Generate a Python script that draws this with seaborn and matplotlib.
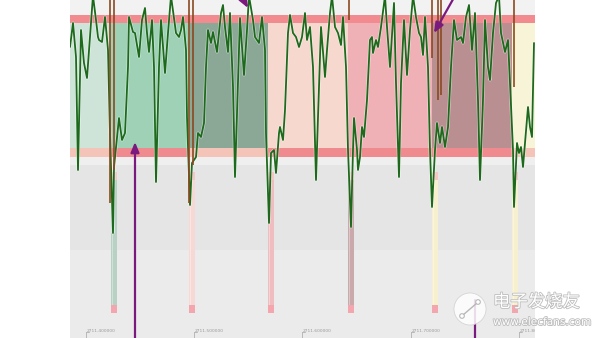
import matplotlib
matplotlib.use("Agg")
import matplotlib.pyplot as plt
import matplotlib.patches as mpatches
import matplotlib.patheffects as pe
import seaborn as sns
import pandas as pd

# ---------------- data (x = horizontal position, y = depth from top) ----------------
green_x = [70, 73, 76, 78, 81, 84, 87, 89, 92, 93, 96, 98, 99, 102, 105, 108, 110, 113, 114, 116,
           119, 122, 125, 128, 129, 133, 135, 139, 142, 145, 147, 149, 152, 154, 156, 159, 161, 165,
           168, 171, 176, 179, 181, 183, 186, 187, 190, 192, 196, 198, 201, 204, 206, 208, 211, 213,
           217, 221, 223, 225, 228, 230, 233, 235, 238, 240, 244, 247, 249, 253, 255, 259, 262, 265,
           266, 269, 271, 274, 276, 279, 280, 283, 285, 288, 290, 293, 296, 299, 302, 305, 307, 310,
           313, 316, 318, 321, 325, 327, 330, 332, 335, 338, 341, 343, 346, 348, 351, 353, 354, 357,
           358, 360, 362, 364, 367, 370, 372, 373, 376, 378, 381, 385, 387, 390, 394, 396, 399, 401,
           404, 407, 410, 413, 416, 419, 421, 423, 425, 428, 430, 432, 435, 437, 440, 442, 445, 448,
           451, 454, 457, 461, 463, 466, 469, 472, 475, 478, 480, 483, 485, 488, 490, 493, 496, 499,
           501, 505, 508, 510, 513, 514, 517, 519, 521, 523, 525, 528, 530, 532, 534]
green_y = [47, 23, 57, 170, 30, 63, 78, 50, 7, -4, 20, 37, 40, 42, 17, 50, 133, 233, 167, 147,
           118, 140, 133, 67, 17, 32, 33, 57, 20, 8, 33, 52, 20, 67, 182, 67, 20, 73,
           33, -4, 33, 37, 30, 17, 50, 117, 205, 163, 157, 133, 137, 123, 67, 30, 43, 32,
           52, 13, 5, 27, 52, 13, 87, 177, 83, 18, 75, 30, -4, 20, 37, 43, 17, 50,
           133, 223, 153, 150, 173, 133, 127, 140, 110, 33, 15, 33, 37, 47, 37, 13, 40, 27,
           67, 180, 117, 27, 77, 50, 13, -4, 27, 33, 45, 17, 67, 150, 227, 150, 118, 150,
           170, 157, 127, 137, 100, 40, 37, 53, 40, 47, 27, -4, 27, 67, 3, 83, 177, 83,
           20, 75, 30, -4, 17, 33, 37, 55, 17, 67, 150, 207, 150, 123, 143, 127, 147, 127,
           67, 20, 40, 37, 43, 17, 5, 50, 13, 100, 180, 100, 20, 67, 80, 33, 3, -4,
           33, 52, 40, 83, 150, 207, 143, 153, 147, 167, 143, 107, 127, 137, 43]

# shaded zones: start, end, colour
zone_start = [70, 110, 190, 268, 348, 432, 512]
zone_end = [110, 190, 268, 348, 432, 512, 535]
zone_color = ["#cfe4d9", "#9fd1b7", "#8ba897", "#f6d8cf", "#efb1b6", "#b98f92", "#f8f4d8"]
lower_band_color = ["#f5c4b8", "#ef8b8f", "#f5c4b8", "#ef8b8f", "#ef8b8f", "#ef8b8f", "#f5c4b8"]

# narrow strips below
strip_x = [111, 189, 268, 348, 432, 512]
strip_color = ["#b7d2c4", "#f6d9d4", "#efbcc0", "#c9a9ab", "#f6f0cf", "#f6f0cf"]

# brown vertical segments: x, bottom depth
brown_x = [110, 114, 189, 193, 349, 432, 438, 441, 514]
brown_bottom = [203, 170, 203, 165, 20, 58, 100, 95, 87]

# tick labels
tick_pos = [87, 195, 303, 412, 520]
tick_text = ["2711.400000", "2711.500000", "2711.600000", "2711.700000", "2711.800000"]

# ---------------- figure ----------------
sns.set_style("white")
fig = plt.figure(figsize=(6, 3.38), dpi=100)
ax = fig.add_axes([0, 0, 1, 1])

def rect(x0, x1, y0, y1, color, z=1, alpha=1.0):
    ax.add_patch(mpatches.Rectangle((x0, y0), x1 - x0, y1 - y0, facecolor=color,
                                    edgecolor="none", zorder=z, alpha=alpha))

# backgrounds
rect(70, 535, 0, 15, "#f2f2f2", 0)
rect(70, 535, 157, 165, "#efefef", 0)
rect(70, 535, 165, 250, "#e5e5e5", 0)
rect(70, 535, 250, 338, "#ebebeb", 0)

for s, e, c, lb in zip(zone_start, zone_end, zone_color, lower_band_color):
    rect(s, e, 23, 148, c, 1)
    rect(s, e, 148, 157, lb, 2)
rect(70, 535, 15, 23, "#f28b8f", 2)

for sx, sc in zip(strip_x, strip_color):
    rect(sx, sx + 6, 172, 313, sc, 1)
    rect(sx + 1, sx + 2, 172, 313, "#ffffff", 1, 0.35)
    rect(sx, sx + 6, 172, 180, "#f5c6c4", 1)
    rect(sx, sx + 6, 305, 313, "#f3a6ad", 1)

# green line
df = pd.DataFrame({"x": green_x, "y": green_y})
sns.lineplot(data=df, x="x", y="y", sort=False, color="#1d6a1d", lw=1.3, ax=ax, zorder=5,
             path_effects=[pe.Stroke(linewidth=2.2, foreground="#ffffff", alpha=0.5), pe.Normal()])
ax.set_xlim(0, 600)
ax.set_ylim(338, 0)
ax.axis("off")

# brown segments
for bx, bb in zip(brown_x, brown_bottom):
    ax.plot([bx, bx], [-3, bb], color="#8a4a20", lw=1.2, zorder=6, solid_capstyle="butt")

# purple arrows
arrow_kw = dict(arrowstyle="-|>,head_width=0.25,head_length=0.6", color="#7b1a7e", lw=1.6,
                shrinkA=0, shrinkB=0)
ax.annotate("", xy=(135, 142), xytext=(135, 345), arrowprops=arrow_kw, zorder=7)
ax.annotate("", xy=(248, 8), xytext=(236, -14), arrowprops=arrow_kw, zorder=7)
ax.annotate("", xy=(434, 33), xytext=(456, -6), arrowprops=arrow_kw, zorder=7)
ax.plot([475, 475], [300, 345], color="#7b1a7e", lw=1.6, zorder=7)

# tick labels
for tp, tt in zip(tick_pos, tick_text):
    ax.plot([tp - 1, tp - 1], [332, 338], color="#b0b0b0", lw=0.6, zorder=3)
    ax.plot([tp - 1, tp + 2], [332, 332], color="#b0b0b0", lw=0.6, zorder=3)
    ax.text(tp, 331.5, tt, fontsize=3.2, color="#9a9a9a", ha="left", va="center", zorder=3)

# white outside area
rect(535, 600, 0, 338, "#ffffff", 8)
rect(0, 70, 0, 338, "#ffffff", 8)

# watermark
ax.add_patch(mpatches.Circle((470, 309), 16, facecolor="#ffffff", edgecolor="#d0d0d0",
                             lw=0.6, alpha=0.85, zorder=10))
ax.plot([463, 477], [315, 303], color="#b8b8b8", lw=1.0, zorder=11)
ax.add_patch(mpatches.Circle((462, 316), 2.3, facecolor="#ffffff", edgecolor="#b8b8b8", lw=0.8, zorder=11))
ax.add_patch(mpatches.Circle((478, 302), 2.3, facecolor="#ffffff", edgecolor="#b8b8b8", lw=0.8, zorder=11))
wm_fx = [pe.withStroke(linewidth=1.2, foreground="#bdbdbd")]
ax.text(493, 302, "电子发烧友", fontsize=12.5, color="#ffffff", ha="left", va="center",
        family=["Noto Sans CJK SC", "DejaVu Sans"], zorder=11, path_effects=wm_fx)
ax.text(493, 322, "www.elecfans.com", fontsize=7.6, color="#ffffff", ha="left", va="center",
        family=["DejaVu Sans"], zorder=11, path_effects=wm_fx)

fig.savefig("out.png", dpi=100)
